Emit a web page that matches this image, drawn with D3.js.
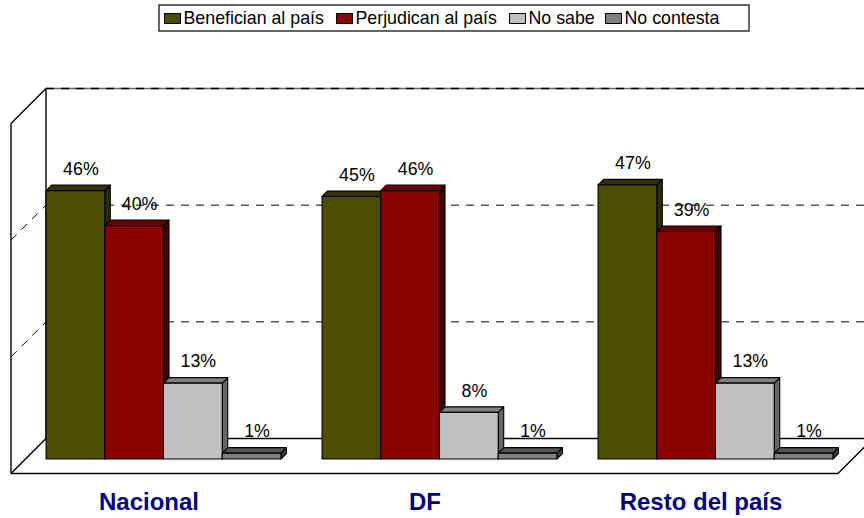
<!DOCTYPE html>
<html><head><meta charset="utf-8">
<script src="https://cdnjs.cloudflare.com/ajax/libs/d3/7.8.5/d3.min.js"></script>
<style>html,body{margin:0;padding:0;background:#fff}svg{display:block}text{font-family:"Liberation Sans",Arial,sans-serif}</style>
</head><body><svg id="c" width="864" height="518"></svg>
<script>
const categories = ["Nacional", "DF", "Resto del país"];
const seriesNames = ["Benefician al país", "Perjudican al país", "No sabe", "No contesta"];
const beneficianValues = [46, 45, 47];
const perjudicanValues = [40, 46, 39];
const noSabeValues = [13, 8, 13];
const noContestaValues = [1, 1, 1];
const yTicks = [0, 20, 40, 60];
const frontColors = ["#4d4d00", "#8b0000", "#c0c0c0", "#808080"];
const topColors = ["#333300", "#660000", "#808080", "#555555"];
const sideColors = ["#2b2b00", "#400000", "#666666", "#404040"];
const legendX = [164, 336, 509, 605];

const svgEl = d3.select("#c");
const seriesValues = [beneficianValues, perjudicanValues, noSabeValues, noContestaValues];
const floorDepth = 35, barShift = 14.5, barDepth = 5.5;
const x0 = d3.scaleBand().domain(categories).range([11, 839]).paddingInner(0.149).paddingOuter(0.0745);
const xInner = d3.scaleBand().domain(d3.range(4)).range([0, x0.bandwidth()]);
const y = d3.scaleLinear().domain([0, 60]).range([459, 109]);
const backY = v => y(v) - 20.5;
const line = (g, a, b, c, d, w, dash, col) => g.append("line")
  .attr("x1", a).attr("y1", b).attr("x2", c).attr("y2", d)
  .attr("stroke", col || "#000").attr("stroke-width", w)
  .attr("stroke-dasharray", dash || null);

// walls and floor
const walls = svgEl.append("g");
const bx = 46, fx = bx - floorDepth;
const rightEnd = 874;
yTicks.forEach(t => {
  const yy = backY(t);
  if (t === 0) {
    line(walls, bx, yy, rightEnd, yy, 1.4);
  } else if (t === 60) {
    line(walls, bx, yy, rightEnd, yy, 1.6, null, "#666");
    line(walls, bx, yy, rightEnd, yy, 1.6, "8 7");
    line(walls, fx, yy + floorDepth, bx, yy, 1.4);
  } else {
    line(walls, bx, yy, rightEnd, yy, 1, "8 7");
    line(walls, fx, yy + floorDepth, bx, yy, 1, "8 7");
  }
});
line(walls, bx, backY(60), bx, backY(0), 1.4);
line(walls, fx, backY(60) + floorDepth, fx, backY(0) + floorDepth, 1.4);
line(walls, fx, backY(0) + floorDepth, bx, backY(0), 1.4);
line(walls, fx, backY(0) + floorDepth, 838, backY(0) + floorDepth, 1.4);
line(walls, 838, backY(0) + floorDepth, 873, backY(0), 1.4);

// bars
const marks = [];
categories.forEach((c, ci) => seriesValues.forEach((vals, si) => marks.push({c, si, v: vals[ci]})));
const barsG = svgEl.append("g").attr("stroke", "#000").attr("stroke-width", 1.1).attr("stroke-linejoin", "round");
const bars = barsG.selectAll("g").data(marks).join("g");
const bl = d => x0(d.c) + xInner(d.si) + barShift;
const br = d => bl(d) + xInner.bandwidth();
bars.append("path").attr("fill", d => sideColors[d.si])
  .attr("d", d => `M${br(d)},${y(d.v)}L${br(d)+barDepth},${y(d.v)-barDepth}L${br(d)+barDepth},${y(0)-barDepth}L${br(d)},${y(0)}Z`);
bars.append("path").attr("fill", d => topColors[d.si])
  .attr("d", d => `M${bl(d)},${y(d.v)}L${bl(d)+barDepth},${y(d.v)-barDepth}L${br(d)+barDepth},${y(d.v)-barDepth}L${br(d)},${y(d.v)}Z`);
bars.append("rect").attr("fill", d => frontColors[d.si])
  .attr("x", bl).attr("y", d => y(d.v)).attr("width", xInner.bandwidth()).attr("height", d => y(0) - y(d.v));

// value labels
svgEl.append("g").selectAll("text").data(marks).join("text")
  .attr("x", d => (bl(d) + br(d)) / 2 + 5.5)
  .attr("y", d => y(d.v) - 15.8)
  .attr("text-anchor", "middle").attr("font-size", 17.8).attr("fill", "#000")
  .text(d => d.v + "%");

// category labels
svgEl.append("g").selectAll("text").data(categories).join("text")
  .attr("x", d => x0(d) + x0.bandwidth() / 2)
  .attr("y", 510).attr("text-anchor", "middle")
  .attr("font-size", 24).attr("font-weight", "bold").attr("fill", "#000080")
  .text(d => d);

// legend
const lg = svgEl.append("g");
lg.append("rect").attr("x", 159).attr("y", 5).attr("width", 590).attr("height", 26)
  .attr("fill", "#fff").attr("stroke", "#000").attr("stroke-width", 1.2);
seriesNames.forEach((n, i) => {
  lg.append("rect").attr("x", legendX[i] + .5).attr("y", 13.5).attr("width", 16).attr("height", 10)
    .attr("fill", frontColors[i]).attr("stroke", "#000");
  lg.append("text").attr("x", legendX[i] + 19.5).attr("y", 23.5)
    .attr("font-size", 17.8).attr("fill", "#000").text(n);
});
</script></body></html>
